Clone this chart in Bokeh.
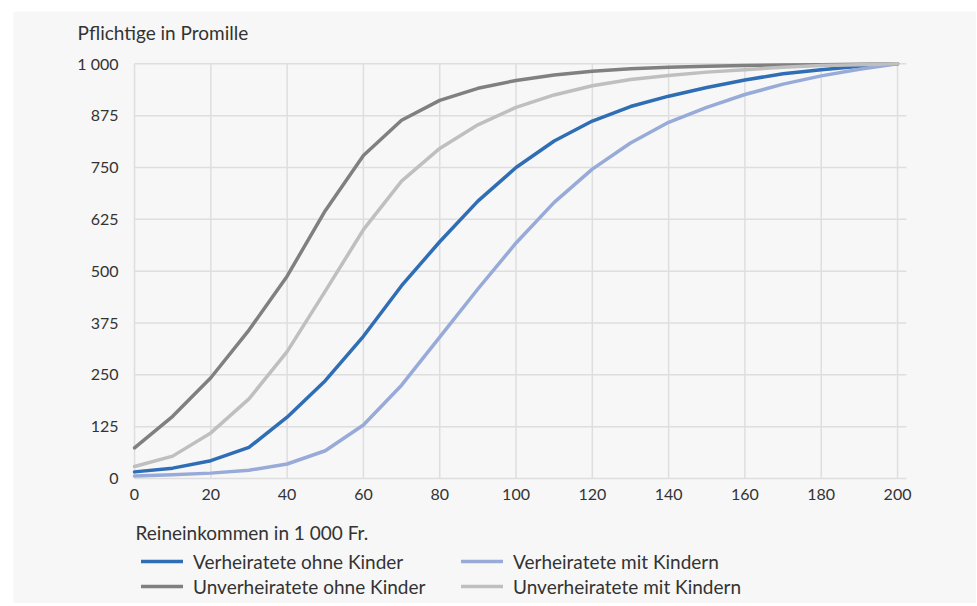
from bokeh.plotting import figure
from bokeh.models import Legend, LegendItem, Range1d
from bokeh.core.properties import value
from bokeh.embed import file_html
from bokeh.resources import INLINE

income = [0, 10, 20, 30, 40, 50, 60, 70, 80, 90, 100, 110, 120, 130, 140, 150, 160, 170, 180, 190, 200]
verh_ohne = [16, 25, 43, 75, 148, 236, 343, 465, 571, 669, 750, 814, 862, 897, 922, 943, 961, 976, 986, 994, 1000]
verh_mit = [6, 9, 13, 20, 35, 67, 129, 225, 341, 457, 568, 666, 746, 809, 859, 895, 926, 951, 971, 987, 1000]
unverh_ohne = [74, 150, 243, 358, 488, 646, 779, 864, 912, 941, 960, 973, 982, 988, 992, 994, 996, 997, 998, 999, 1000]
unverh_mit = [29, 54, 110, 192, 306, 452, 600, 717, 796, 853, 895, 925, 947, 962, 972, 980, 986, 992, 996, 998, 1000]

series_names = ["Verheiratete ohne Kinder", "Verheiratete mit Kindern",
                "Unverheiratete ohne Kinder", "Unverheiratete mit Kindern"]
x_ticks = [0, 20, 40, 60, 80, 100, 120, 140, 160, 180, 200]
x_tick_labels = ["0", "20", "40", "60", "80", "100", "120", "140", "160", "180", "200"]
y_ticks = [0, 125, 250, 375, 500, 625, 750, 875, 1000]
y_tick_labels = ["0", "125", "250", "375", "500", "625", "750", "875", "1 000"]
y_title = "Pflichtige in Promille"
x_title = "Reineinkommen in 1 000 Fr."

FONT = "Lato"
BG = "#f7f7f7"
TXT = "#333333"
GRID = "#dedede"

X_MIN, X_MAX = 0, 202.3
Y_MIN, Y_MAX = 0, 1000

p = figure(width=963, height=592, output_backend="svg", toolbar_location=None,
           x_range=Range1d(-31.72, 220.7), y_range=Range1d(-301.4, 1126.2),
           x_axis_type=None, y_axis_type=None,
           min_border=0, min_border_left=0, min_border_right=0,
           min_border_top=0, min_border_bottom=0)
p.margin = (11, 0, 0, 13)
p.background_fill_color = BG
p.border_fill_color = BG
p.outline_line_color = None

# grid lines
p.segment(x0=x_ticks, y0=[Y_MIN] * len(x_ticks), x1=x_ticks, y1=[Y_MAX] * len(x_ticks),
          line_color=GRID, line_width=1.5)
p.segment(x0=[X_MIN] * len(y_ticks), y0=y_ticks, x1=[X_MAX] * len(y_ticks), y1=y_ticks,
          line_color=GRID, line_width=1.5)

# tick labels
p.text(x=x_ticks, y=[0] * len(x_ticks), text=x_tick_labels, y_offset=16,
       text_align="center", text_baseline="middle", text_font=value(FONT),
       text_font_size="16px", text_color=TXT)
p.text(x=[0] * len(y_ticks), y=y_ticks, text=y_tick_labels, x_offset=-16,
       text_align="right", text_baseline="middle", text_font=value(FONT),
       text_font_size="16px", text_color=TXT)

colors = ["#2f6db5", "#98aad8", "#808080", "#bfbfbf"]
data = [verh_ohne, verh_mit, unverh_ohne, unverh_mit]
renderers = []
for ys, c in zip(data, colors):
    r = p.line(income, ys, line_color=c, line_width=3.5, line_join="round", line_cap="round")
    renderers.append(r)

# axis titles
p.text(x=[-14.94], y=[1075.6], text=[y_title], text_align="left", text_baseline="middle",
       text_font=value(FONT), text_font_size="19px", text_color=TXT)
p.text(x=[0.26], y=[-130.2], text=[x_title], text_align="left", text_baseline="middle",
       text_font=value(FONT), text_font_size="19px", text_color=TXT)

items = [LegendItem(label=series_names[i], renderers=[renderers[i]]) for i in (0, 2, 1, 3)]
legend = Legend(items=items, ncols=2, orientation="vertical", location=(128, 5.5),
                label_text_font=FONT, label_text_font_size="19px", label_text_color=TXT,
                glyph_width=42, glyph_height=20, label_standoff=10, spacing=2,
                label_width=266, padding=0, margin=0,
                background_fill_alpha=0, border_line_alpha=0)
p.add_layout(legend, "center")

open("out.html", "w").write(file_html(p, INLINE))
